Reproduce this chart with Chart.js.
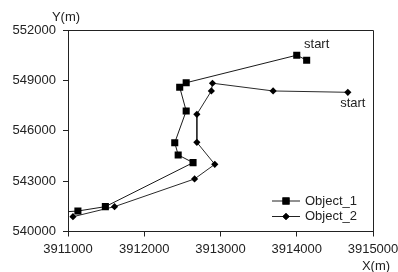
<!DOCTYPE html>
<html>
<head>
<meta charset="utf-8">
<script src="https://cdn.jsdelivr.net/npm/chart.js@4"></script>
<style>
  html, body { margin: 0; padding: 0; background: #fff; }
  #wrap { width: 398px; height: 272px; }
</style>
</head>
<body>
<div id="wrap"><canvas id="trackChart" width="398" height="272"></canvas></div>
<script>
const OBJ1_X = [3914130, 3914000, 3912550, 3912465, 3912550, 3912400, 3912445, 3912640, 3911490, 3911130, 3910890];
const OBJ1_Y = [550200, 550500, 548860, 548590, 547180, 545290, 544560, 544100, 541480, 541220, 541150];
const OBJ2_X = [3914670, 3913690, 3912895, 3912880, 3912690, 3912690, 3912925, 3912660, 3911610, 3911065];
const OBJ2_Y = [548290, 548370, 548830, 548370, 546980, 545310, 544000, 543130, 541480, 540880];
const SERIES_NAMES = ["Object_1", "Object_2"];
const X_TICKS = [3911000, 3912000, 3913000, 3914000, 3915000];
const Y_TICKS = [540000, 543000, 546000, 549000, 552000];

const FONT = "Liberation Sans, Arial, sans-serif";
const ctx = document.getElementById("trackChart");

function toPoints(xs, ys) {
  return xs.map((x, i) => ({ x: x, y: ys[i] }));
}

// frame, "start" notes, axis names and the legend inside the plot
const extras = {
  id: "extras",
  afterDatasetsDraw(chart) {
    const c = chart.ctx;
    const a = chart.chartArea;
    const xs = chart.scales.x;
    const ys = chart.scales.y;
    c.save();
    c.strokeStyle = "#222";
    c.lineWidth = 1;
    c.beginPath();
    c.moveTo(a.left, a.top + 0.5);
    c.lineTo(a.right + 0.5, a.top + 0.5);
    c.lineTo(a.right + 0.5, a.bottom);
    c.stroke();

    c.fillStyle = "#222";
    c.font = "13px " + FONT;
    c.textAlign = "center";
    c.textBaseline = "middle";
    // start labels
    c.fillText("start", xs.getPixelForValue(OBJ1_X[0]) + 10, ys.getPixelForValue(OBJ1_Y[0]) - 16);
    c.fillText("start", xs.getPixelForValue(OBJ2_X[0]) + 5, ys.getPixelForValue(OBJ2_Y[0]) + 11);
    // axis names
    c.fillText("Y(m)", 66, 17);
    c.fillText("X(m)", 376, 266);

    // legend
    const items = [
      { name: SERIES_NAMES[0], style: "rect", r: 5 },
      { name: SERIES_NAMES[1], style: "rectRot", r: 3.6 },
    ];
    items.forEach((it, i) => {
      const y = 201 + i * 15.5;
      c.strokeStyle = "#222";
      c.beginPath();
      c.moveTo(272, y);
      c.lineTo(300, y);
      c.stroke();
      c.fillStyle = "#000";
      Chart.helpers.drawPoint(c, { pointStyle: it.style, radius: it.r, borderWidth: 0 }, 286, y);
      c.fill();
      c.fillStyle = "#222";
      c.textAlign = "left";
      c.fillText(it.name, 305, y);
    });
    c.restore();
  },
};

const chart = new Chart(ctx, {
  type: "scatter",
  data: {
    datasets: [
      {
        label: SERIES_NAMES[0],
        data: toPoints(OBJ1_X, OBJ1_Y),
        showLine: true,
        borderColor: "#1a1a1a",
        borderWidth: 1,
        backgroundColor: "#000",
        pointStyle: "rect",
        pointRadius: 5,
        pointBorderWidth: 0,
        tension: 0,
      },
      {
        label: SERIES_NAMES[1],
        data: toPoints(OBJ2_X, OBJ2_Y),
        showLine: true,
        borderColor: "#2a2a2a",
        borderWidth: 1,
        backgroundColor: "#000",
        pointStyle: "rectRot",
        pointRadius: 3.6,
        pointBorderWidth: 0,
        tension: 0,
      },
    ],
  },
  options: {
    responsive: false,
    animation: false,
    layout: { padding: { top: 30, right: 25, left: 0, bottom: 0 } },
    plugins: {
      legend: { display: false },
      tooltip: { enabled: false },
    },
    scales: {
      x: {
        type: "linear",
        min: X_TICKS[0],
        max: X_TICKS[X_TICKS.length - 1],
        afterBuildTicks(scale) {
          scale.ticks = X_TICKS.map((v) => ({ value: v }));
        },
        afterFit(scale) {
          scale.height = 40.5;
          scale.paddingLeft = 0;
          scale.paddingRight = 0;
        },
        border: { display: true, color: "#222", width: 1 },
        grid: { display: true, drawOnChartArea: false, drawTicks: true, tickLength: 5, color: "#222" },
        ticks: {
          color: "#222",
          font: { family: FONT, size: 13 },
          padding: 5,
          maxRotation: 0,
          callback: (v) => String(v),
        },
      },
      y: {
        type: "linear",
        min: Y_TICKS[0],
        max: Y_TICKS[Y_TICKS.length - 1],
        afterBuildTicks(scale) {
          scale.ticks = Y_TICKS.map((v) => ({ value: v }));
        },
        afterFit(scale) {
          scale.width = 68;
          scale.paddingTop = 0;
          scale.paddingBottom = 0;
        },
        border: { display: true, color: "#222", width: 1 },
        grid: { display: true, drawOnChartArea: false, drawTicks: true, tickLength: 5, color: "#222" },
        ticks: {
          color: "#222",
          font: { family: FONT, size: 13 },
          padding: 7,
          callback: (v) => String(v),
        },
      },
    },
  },
  plugins: [extras],
});
</script>
</body>
</html>
